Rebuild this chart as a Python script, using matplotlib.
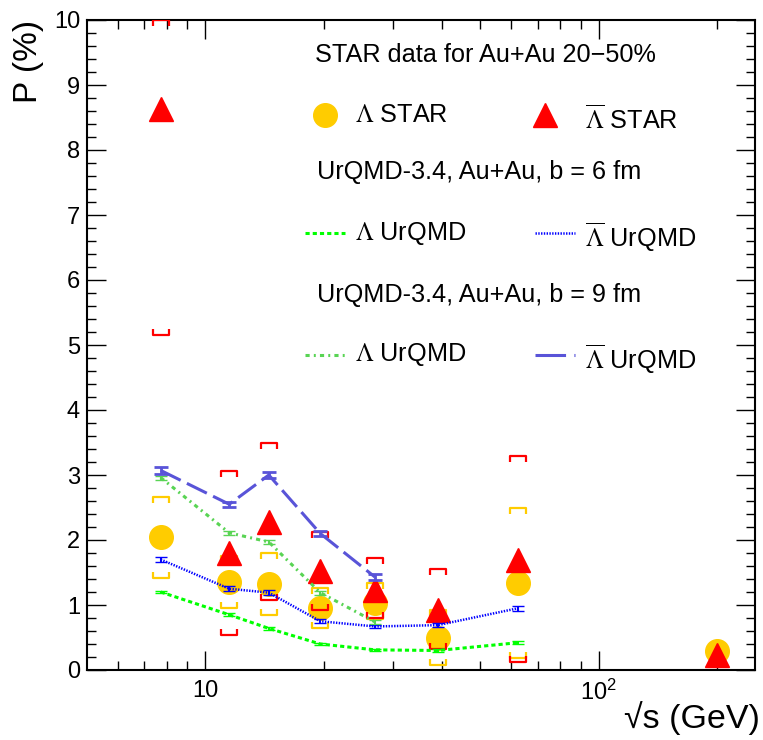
import matplotlib
matplotlib.use("Agg")
import matplotlib.pyplot as plt
import numpy as np
from matplotlib.path import Path
from matplotlib.lines import Line2D
from matplotlib.ticker import FixedLocator, FixedFormatter, MultipleLocator

plt.rcParams['font.family'] = ['Liberation Sans', 'DejaVu Sans']
plt.rcParams['mathtext.fontset'] = 'stix'
plt.rcParams['lines.scale_dashes'] = False

# STAR data, Au+Au 20-50%
energies = [7.7, 11.5, 14.5, 19.6, 27, 39, 62.4, 200]
lam_star = [2.04, 1.35, 1.32, 0.95, 1.03, 0.50, 1.34, 0.29]
lam_sys_hi = [2.66, 1.75, 1.80, 1.26, 1.34, 0.93, 2.50, np.nan]
lam_sys_lo = [1.41, 0.95, 0.85, 0.64, 0.78, 0.08, 0.18, np.nan]
alam_star = [8.63, 1.80, 2.28, 1.52, 1.23, 0.93, 1.70, 0.23]
alam_sys_hi = [10.0, 3.06, 3.49, 2.12, 1.72, 1.55, 3.30, np.nan]
alam_sys_lo = [5.15, 0.54, 1.08, 0.92, 0.80, 0.33, 0.12, np.nan]

# UrQMD-3.4, b = 6 fm
e_b6 = [7.7, 11.5, 14.5, 19.6, 27, 39, 62.4]
b6_lam = [1.20, 0.85, 0.64, 0.40, 0.31, 0.30, 0.42]
b6_lam_err = [0.02, 0.02, 0.02, 0.02, 0.02, 0.02, 0.02]
b6_alam = [1.70, 1.25, 1.19, 0.75, 0.67, 0.69, 0.95]
b6_alam_err = [0.04, 0.04, 0.04, 0.03, 0.03, 0.03, 0.04]

# UrQMD-3.4, b = 9 fm
e_b9 = [7.7, 11.5, 14.5, 19.6, 27]
b9_lam = [2.96, 2.11, 1.97, 1.19, 0.74]
b9_lam_err = [0.03, 0.03, 0.03, 0.03, 0.03]
b9_alam = [3.07, 2.55, 3.00, 2.10, 1.43]
b9_alam_err = [0.05, 0.04, 0.04, 0.04, 0.04]

gold = '#ffcc00'
red = '#ff0000'
green = '#00ff00'
blue = '#0000ff'
green2 = '#59d454'
blue2 = '#5954d8'

# bracket markers for systematic errors
up_br = Path([(-1, -0.75), (-1, 0), (1, 0), (1, -0.75)],
             [Path.MOVETO, Path.LINETO, Path.LINETO, Path.LINETO])
lo_br = Path([(-1, 0.75), (-1, 0), (1, 0), (1, 0.75)],
             [Path.MOVETO, Path.LINETO, Path.LINETO, Path.LINETO])

fig = plt.figure(figsize=(7.63, 7.40), dpi=100)
ax = fig.add_axes([87/763, 70/740, 668/763, 650/740])

# STAR points and brackets
ax.plot(energies, lam_star, 'o', color=gold, ms=17, mec=gold, zorder=3)
for yy, m in [(lam_sys_hi, up_br), (lam_sys_lo, lo_br)]:
    ax.plot(energies, yy, ls='none', marker=m, ms=11.5, mfc='none',
            mec=gold, mew=1.6, zorder=3.1)
ax.plot(energies, alam_star, '^', color=red, ms=17, mec=red, zorder=3.2)
for yy, m in [(alam_sys_hi, up_br), (alam_sys_lo, lo_br)]:
    ax.plot(energies, yy, ls='none', marker=m, ms=11.5, mfc='none',
            mec=red, mew=1.6, zorder=3.3)

# UrQMD curves
ax.errorbar(e_b6, b6_lam, yerr=b6_lam_err, color=green, lw=2.2,
            dashes=(3, 2.2), capsize=4, elinewidth=1.5, zorder=4)
ax.errorbar(e_b6, b6_alam, yerr=b6_alam_err, color=blue, lw=1.8,
            dashes=(1, 1), capsize=4, elinewidth=1.5, zorder=4)
ax.errorbar(e_b9, b9_lam, yerr=b9_lam_err, color=green2, lw=2.2,
            dashes=(3, 3, 1.4, 3), capsize=4, elinewidth=1.5, zorder=4)
ax.errorbar(e_b9, b9_alam, yerr=b9_alam_err, color=blue2, lw=2.2,
            dashes=(16, 5), capsize=5, elinewidth=2, capthick=2, zorder=4)

ax.set_xscale('log')
ax.set_xlim(5, 250)
ax.set_ylim(0, 10)

ax.xaxis.set_major_locator(FixedLocator([10, 100]))
ax.xaxis.set_major_formatter(FixedFormatter(['10', r'$\mathregular{10^{2}}$']))
ax.xaxis.set_minor_locator(FixedLocator([6, 7, 8, 9, 20, 30, 40, 50, 60, 70, 80, 90, 200]))
ax.xaxis.set_minor_formatter(FixedFormatter([''] * 13))
ax.yaxis.set_major_locator(MultipleLocator(1))
ax.yaxis.set_minor_locator(MultipleLocator(0.2))

ax.tick_params(which='both', direction='in', top=True, right=True, width=1,
               labelsize=17)
ax.tick_params(which='major', length=14)
ax.tick_params(which='minor', length=6.5)
ax.tick_params(axis='y', pad=5)
ax.tick_params(axis='x', pad=7)
for s in ax.spines.values():
    s.set_linewidth(1.5)

ax.text(1.008, -0.074, '√s (GeV)', transform=ax.transAxes, ha='right',
        va='center', fontsize=24.5)
ax.text(-0.087, 1.0, 'P (%)', transform=ax.transAxes, ha='center',
        va='top', rotation=90, fontsize=24)

# legend block
fs = 18.2
ax.text(0.341, 0.946, 'STAR data for Au+Au 20\u221250%', transform=ax.transAxes,
        fontsize=fs, va='center')
ax.add_line(Line2D([0.356], [0.854], marker='o', color=gold, ms=17,
                   transform=ax.transAxes))
ax.text(0.401, 0.854, r'$\Lambda$ STAR', transform=ax.transAxes,
        fontsize=fs, va='center')
ax.add_line(Line2D([0.686], [0.854], marker='^', color=red, ms=17,
                   transform=ax.transAxes))
ax.text(0.746, 0.847, r'$\overline{\Lambda}$ STAR', transform=ax.transAxes,
        fontsize=fs, va='center')

ax.text(0.344, 0.766, 'UrQMD-3.4, Au+Au, b = 6 fm', transform=ax.transAxes,
        fontsize=fs, va='center')
ax.add_line(Line2D([0.326, 0.386], [0.672, 0.672], color=green, lw=2.2,
                   dashes=(3, 2.2), transform=ax.transAxes))
ax.text(0.401, 0.672, r'$\Lambda$ UrQMD', transform=ax.transAxes,
        fontsize=fs, va='center')
ax.add_line(Line2D([0.671, 0.731], [0.672, 0.672], color=blue, lw=1.8,
                   dashes=(1, 1), transform=ax.transAxes))
ax.text(0.746, 0.665, r'$\overline{\Lambda}$ UrQMD', transform=ax.transAxes,
        fontsize=fs, va='center')

ax.text(0.344, 0.577, 'UrQMD-3.4, Au+Au, b = 9 fm', transform=ax.transAxes,
        fontsize=fs, va='center')
ax.add_line(Line2D([0.326, 0.386], [0.485, 0.485], color=green2, lw=2.2,
                   dashes=(3, 3, 1.4, 3), transform=ax.transAxes))
ax.text(0.401, 0.485, r'$\Lambda$ UrQMD', transform=ax.transAxes,
        fontsize=fs, va='center')
ax.add_line(Line2D([0.671, 0.731], [0.485, 0.485], color=blue2, lw=2.2,
                   dashes=(22, 6, 2, 6), transform=ax.transAxes))
ax.text(0.746, 0.478, r'$\overline{\Lambda}$ UrQMD', transform=ax.transAxes,
        fontsize=fs, va='center')

fig.savefig('out.png', dpi=100)
